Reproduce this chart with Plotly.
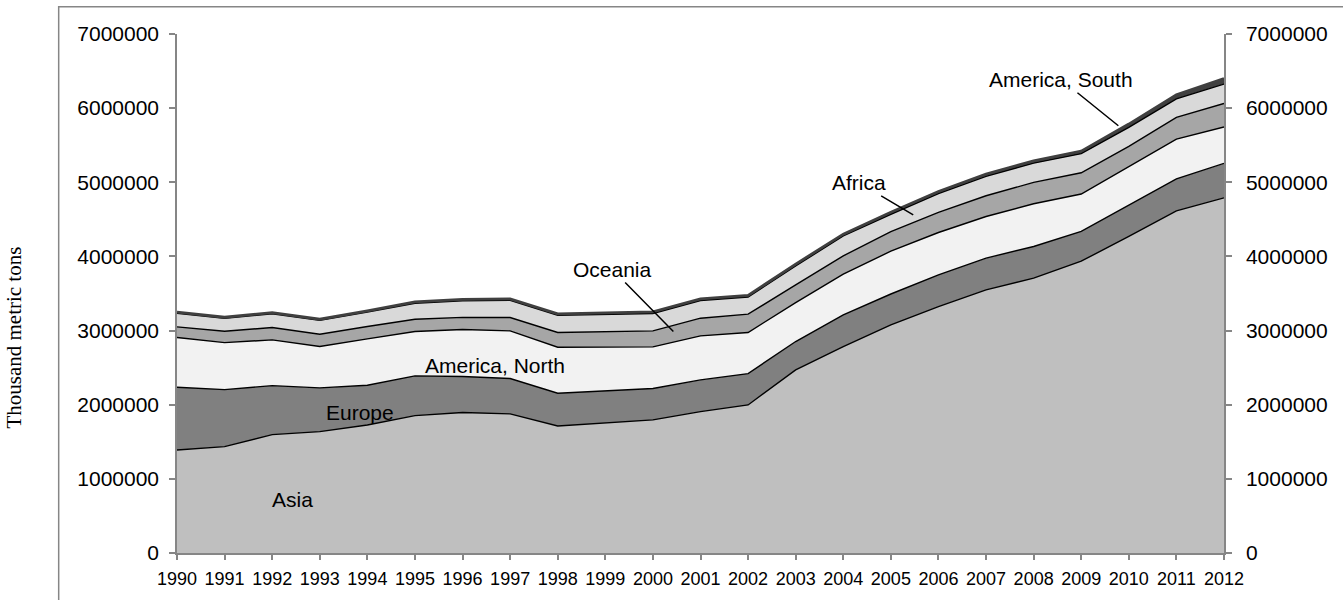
import plotly.graph_objects as go

years = list(range(1990, 2013))
year_labels = [str(y) for y in years]

asia = [1390000, 1435000, 1597000, 1637000, 1727000, 1853000, 1894000, 1876000, 1714000, 1750000,
        1795000, 1907000, 1997000, 2470000, 2785000, 3076000, 3324000, 3549000, 3707000, 3936000,
        4269000, 4615000, 4790000]
europe = [846000, 769000, 661000, 590000, 535000, 536000, 486000, 477000, 441000, 441000,
          423000, 428000, 423000, 382000, 427000, 417000, 428000, 428000, 427000, 402000,
          427000, 432000, 465000]
america_north = [670000, 634000, 616000, 558000, 626000, 598000, 635000, 643000, 621000, 585000,
                 562000, 593000, 554000, 526000, 549000, 578000, 571000, 562000, 576000, 504000,
                 518000, 535000, 490000]
oceania = [144000, 153000, 167000, 166000, 167000, 166000, 163000, 180000, 198000, 211000,
           216000, 239000, 247000, 239000, 247000, 263000, 270000, 279000, 288000, 286000,
           270000, 293000, 319000]
africa = [183000, 174000, 186000, 186000, 194000, 216000, 223000, 232000, 231000, 227000,
          235000, 239000, 231000, 255000, 268000, 235000, 255000, 262000, 260000, 258000,
          256000, 251000, 261000]
america_south = [15000, 15000, 16000, 16000, 17000, 18000, 19000, 20000, 20000, 20000,
                 21000, 22000, 23000, 24000, 25000, 26000, 28000, 30000, 32000, 34000,
                 45000, 55000, 75000]

y_ticks = [0, 1000000, 2000000, 3000000, 4000000, 5000000, 6000000, 7000000]

series = [
    ("Asia", asia, "#BFBFBF", "#000000", 1.4),
    ("Europe", europe, "#808080", "#000000", 1.4),
    ("America, North", america_north, "#F2F2F2", "#000000", 1.4),
    ("Oceania", oceania, "#A6A6A6", "#000000", 1.4),
    ("Africa", africa, "#D9D9D9", "#000000", 1.4),
    ("America, South", america_south, "#404040", "#404040", 2.8),
]

fig = go.Figure()
for name, vals, fc, lc, lw in series:
    fig.add_trace(go.Scatter(
        x=years, y=vals, name=name, mode="lines", stackgroup="one",
        fillcolor=fc, line=dict(color=lc, width=lw), showlegend=False,
        hoverinfo="skip"))

# invisible trace to anchor the right-hand axis
fig.add_trace(go.Scatter(x=years, y=asia, yaxis="y2", mode="lines",
                         line=dict(width=0), opacity=0, showlegend=False,
                         hoverinfo="skip"))

tick_font = dict(family="Liberation Sans, Arial", size=21, color="#000000")
axis_col = "#868686"

fig.update_layout(
    width=1343, height=600,
    margin=dict(l=177, r=119, t=34, b=47),
    paper_bgcolor="white", plot_bgcolor="white",
    hovermode=False,
    xaxis=dict(
        range=[1990, 2012], tickmode="array", tickvals=years, ticktext=year_labels,
        ticks="outside", ticklen=5, tickcolor=axis_col, tickwidth=1.5,
        showline=True, linecolor=axis_col, linewidth=2,
        showgrid=False, zeroline=False,
        tickfont=dict(family="Liberation Sans, Arial", size=18, color="#000000"),
        ticklabelstandoff=3,
    ),
    yaxis=dict(
        range=[0, 7000000], tickmode="array", tickvals=y_ticks, tickformat="d",
        ticks="outside", ticklen=6, tickcolor=axis_col, tickwidth=1.5,
        showline=True, linecolor=axis_col, linewidth=1.5,
        showgrid=False, zeroline=False, tickfont=tick_font,
        ticklabelstandoff=6,
    ),
    yaxis2=dict(
        range=[0, 7000000], tickmode="array", tickvals=y_ticks, tickformat="d",
        overlaying="y", side="right", anchor="x",
        ticks="outside", ticklen=6, tickcolor=axis_col, tickwidth=1.5,
        showline=True, linecolor=axis_col, linewidth=1.5,
        showgrid=False, zeroline=False, tickfont=tick_font,
        ticklabelstandoff=10,
    ),
)

label_font = dict(family="Liberation Sans, Arial", size=21, color="#000000")

# plain labels inside bands
fig.add_annotation(x=1992.42, y=715000, text="Asia", showarrow=False, font=label_font)
fig.add_annotation(x=1993.85, y=1893000, text="Europe", showarrow=False, font=label_font)
fig.add_annotation(x=1996.68, y=2524000, text="America, North", showarrow=False, font=label_font)

# labels with leader lines
for txt, xv, yv, ax, ay in [
    ("Oceania", 2000.43, 2987000, -61, -62),
    ("Africa", 2005.47, 4561000, -54, -32),
    ("America, South", 2009.78, 5762000, -57, -46),
]:
    fig.add_annotation(x=xv, y=yv, text=txt, showarrow=True, arrowhead=0,
                       arrowwidth=1.5, arrowcolor="#000000", ax=ax, ay=ay,
                       font=label_font, standoff=0)

# axis title
fig.add_annotation(xref="paper", yref="paper", x=-0.1557, y=0.415,
                   text="Thousand metric tons", textangle=-90, showarrow=False,
                   xanchor="center", yanchor="middle",
                   font=dict(family="Liberation Serif, Times New Roman", size=21, color="#000000"))

# outer chart-area border
fig.add_shape(type="rect", xref="paper", yref="paper",
              x0=-0.113, x1=1.2, y0=-0.3, y1=1.0526,
              line=dict(color=axis_col, width=1.5), fillcolor="rgba(0,0,0,0)", layer="below")

fig.write_html("out.html", config={"displayModeBar": False},
               post_script="document.body.style.margin='0';document.body.style.padding='0';")
